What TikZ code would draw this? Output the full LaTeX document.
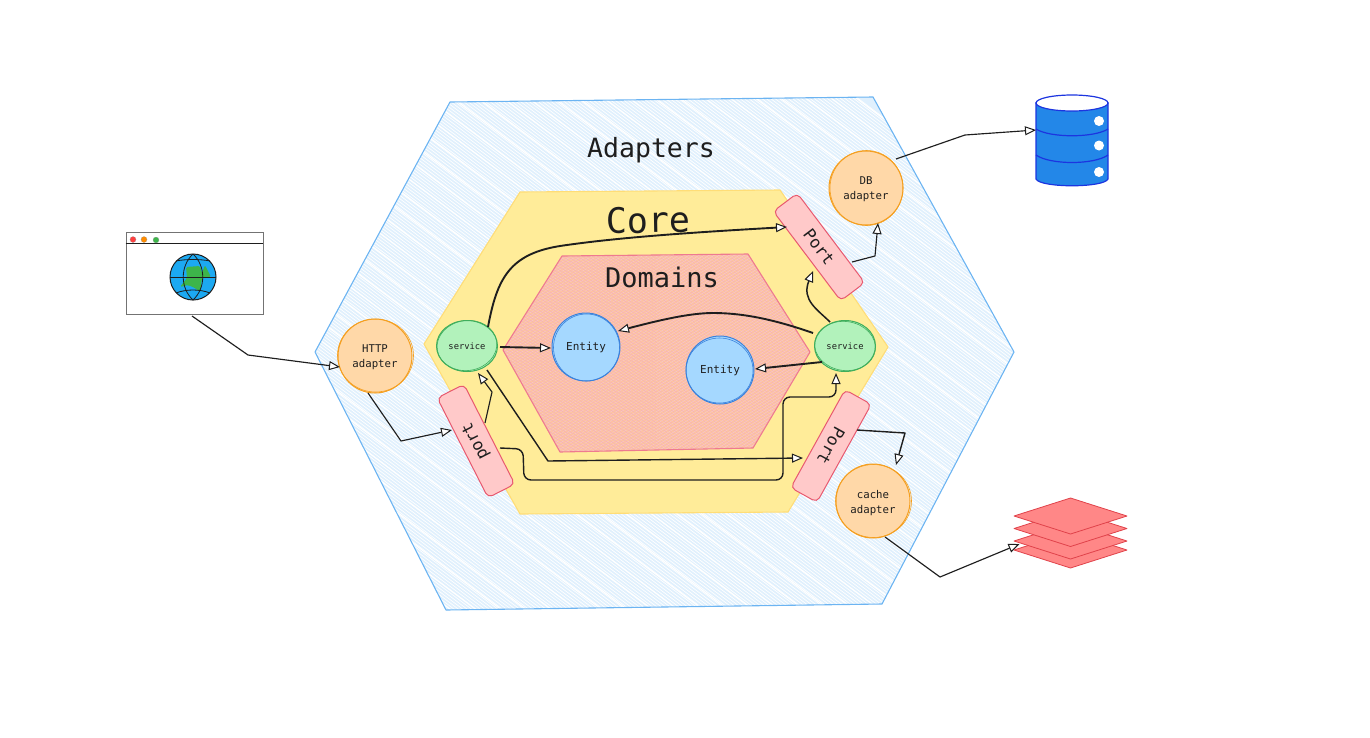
\documentclass[tikz,border=0pt]{standalone}
\usepackage{fontspec}
\setmainfont{DejaVu Sans Mono}
\usetikzlibrary{arrows.meta,shapes.geometric,calc}
\definecolor{txt}{HTML}{1E1E1E}
\definecolor{adFill}{HTML}{E0F0FD}
\definecolor{adLine}{HTML}{6CB4F2}
\definecolor{coreFill}{HTML}{FFEC99}
\definecolor{coreLine}{HTML}{FFDD77}
\definecolor{domFill}{HTML}{FDC4A0}
\definecolor{domLine}{HTML}{EE7A90}
\definecolor{portFill}{HTML}{FFC9C9}
\definecolor{portLine}{HTML}{E8596F}
\definecolor{orFill}{HTML}{FFD8A8}
\definecolor{orLine}{HTML}{F59F1F}
\definecolor{grFill}{HTML}{B2F2BB}
\definecolor{grLine}{HTML}{3FAE5C}
\definecolor{blFill}{HTML}{A5D8FF}
\definecolor{blLine}{HTML}{3B82DC}
\definecolor{dbFill}{HTML}{2387E8}
\definecolor{dbLine}{HTML}{1C35E0}
\definecolor{stFill}{HTML}{FF8787}
\definecolor{stLine}{HTML}{E0424A}
\definecolor{globeFill}{HTML}{1CA9F2}
\definecolor{globeLand}{HTML}{3DB54A}
\tikzset{
  x=1pt,y=-1pt,
  hexline/.style={line width=1.1pt,line join=round},
  lab/.style={text=txt,inner sep=0pt,align=center},
  portbox/.style={draw=portLine,fill=portFill,line width=1pt,rounded corners=5pt,minimum width=112pt,minimum height=30pt,inner sep=0pt,text=txt,font=\fontsize{16.5}{18}\selectfont},
  adapter/.style={circle,draw=orLine,fill=orFill,line width=1pt,minimum size=74pt,inner sep=0pt,text=txt,align=center,text depth=0pt,font=\fontsize{10.7}{15}\selectfont},
  service/.style={ellipse,draw=grLine,fill=grFill,line width=1pt,minimum width=61pt,minimum height=51pt,inner sep=0pt,text=txt,font=\fontsize{8.8}{10}\selectfont},
  entity/.style={circle,draw=blLine,fill=blFill,line width=1pt,minimum size=68pt,inner sep=0pt,text=txt,font=\fontsize{11}{13}\selectfont},
  conn/.style={draw=txt,line width=1.15pt,line join=round,-{Triangle[open,fill=white,length=11pt,width=9pt,line width=1pt]}},
  connb/.style={conn,line width=1.9pt,-{Triangle[open,fill=white,length=11pt,width=9pt,line width=1pt]}},
  layer/.style={draw=stLine,fill=stFill,line width=.8pt,line join=round},
  dbedge/.style={draw=dbLine,line width=1.2pt},
  anchorbox/.style={inner sep=0pt,outer sep=0pt},
}
\begin{document}
\begin{tikzpicture}
\useasboundingbox (0,0) rectangle (1370,737);
% Adapters hexagon
\begin{scope}
\clip (450,102) -- (873,97) -- (1014,352) -- (882,604) -- (446,610) -- (315,352) -- cycle;
\fill[adFill] (300,90) rectangle (1030,620);
\foreach \k in {-40,...,260}{
  \draw[white,line width=.7pt] (300,{90+\k*3.3-280}) -- (1030,{90+\k*3.3+270});
}
\foreach \k in {-8,...,45}{
  \draw[white,line width=1.1pt] (300,{92+\k*19-280}) -- (1030,{92+\k*19+270});
}
\end{scope}
\draw[adLine,hexline] (450,102) -- (873,97) -- (1014,352) -- (882,604) -- (446,610) -- (315,352) -- cycle;
% Core hexagon
\draw[coreLine,fill=coreFill,hexline] (520,192) -- (780,190) -- (888,347) -- (788,512) -- (520,514) -- (424,344) -- cycle;
% Domains hexagon
\begin{scope}
\clip (562,256) -- (748,254) -- (810,352) -- (753,448) -- (560,452) -- (503,350) -- cycle;
\fill[domFill] (495,245) rectangle (820,460);
\foreach \k in {-40,...,150}{
  \draw[domLine!62,line width=.4pt] (495,{245+\k*3.1-120}) -- (820,{245+\k*3.1+80});
  \draw[domLine!42,line width=.4pt] (495,{245+\k*3.1+80}) -- (820,{245+\k*3.1-120});
}
\end{scope}
\draw[domLine,hexline] (562,256) -- (748,254) -- (810,352) -- (753,448) -- (560,452) -- (503,350) -- cycle;
% Titles
\node[lab,font=\fontsize{26.5}{30}\selectfont] (tAdapters) at (651,150) {Adapters};
\node[lab,font=\fontsize{35}{38}\selectfont,rotate=1] (tCore) at (648,220) {Core};
\node[lab,font=\fontsize{27}{30}\selectfont] (tDomains) at (662,277) {Domains};
% Ports
\node[portbox,rotate=117] (portL) at (476,441) {port};
\node[portbox,rotate=-53] (portTR) at (819,247) {Port};
\node[portbox,rotate=241] (portBR) at (831,446) {Port};
% Adapters
\node[adapter] (http) at (375,356) {\raisebox{-1pt}{HTTP}\\\raisebox{-1pt}{adapter}};
\node[adapter] (dbad) at (866,188) {DB\\adapter};
\node[adapter] (cache) at (873,501) {\raisebox{-1pt}{cache}\\\raisebox{-1pt}{adapter}};
\draw[orLine,line width=.6pt] (375.5,355.5) ellipse[x radius=38,y radius=36.5];
\draw[orLine,line width=.6pt] (866.5,188) ellipse[x radius=36.5,y radius=37.5];
\draw[orLine,line width=.6pt] (873.5,501) ellipse[x radius=38,y radius=36.5];
% Services and entities
\node[service] (svcL) at (467,346) {service};
\node[service] (svcR) at (845,346) {service};
\draw[grLine,line width=.6pt,rotate around={8:(467,346)}] (467,345.5) ellipse[x radius=30,y radius=25];
\draw[grLine,line width=.6pt,rotate around={-8:(845,346)}] (845,346) ellipse[x radius=30.5,y radius=24.5];
\node[entity] (ent1) at (586,347) {Entity};
\node[entity] (ent2) at (720,370) {Entity};
\draw[blLine,line width=.6pt] (586.5,347.5) ellipse[x radius=33,y radius=33.5];
\draw[blLine,line width=.6pt] (719.5,370.5) ellipse[x radius=33.5,y radius=32.5];
% Browser
\node[draw=black!55,fill=white,line width=1pt,minimum width=137pt,minimum height=82pt,inner sep=0pt] (browser) at (194.5,273) {};
\draw[txt,line width=1pt] (125.5,243) -- (263,243);
\fill[red!75!white,draw=black!40,line width=.2pt] (133,239.5) circle[radius=3];
\fill[orange!90!yellow,draw=black!40,line width=.2pt] (144,239.5) circle[radius=3];
\fill[globeLand,draw=black!40,line width=.2pt] (156,240) circle[radius=3];
\fill[globeFill] (193,277) circle[radius=23];
\fill[globeLand,rounded corners=1.5pt] (186,267) -- (200,266) -- (202,273) -- (205,265) -- (211,277) -- (202,278) -- (200,292) -- (195,288) -- (188,285) -- (180,287) -- (187,278) -- cycle;
\draw[txt,line width=1pt] (193,277) circle[radius=23];
\draw[txt,line width=.8pt] (170,277) -- (216,277);
\draw[txt,line width=.8pt] (193,254) .. controls (180,266) and (180,288) .. (193,300) .. controls (206,288) and (206,266) .. (193,254);
\draw[txt,line width=.8pt] (176,261) .. controls (186,259) and (200,259) .. (210,261);
\draw[txt,line width=.8pt] (176,293) .. controls (186,289) and (200,289) .. (210,293);
% Database
\node[anchorbox,minimum width=72pt,minimum height=90pt] (db) at (1072,141) {};
\draw[dbedge,fill=dbFill] (1036,103) -- (1036,179) .. controls (1040,188) and (1104,188) .. (1108,179) -- (1108,103) -- cycle;
\draw[dbedge] (1036,129) .. controls (1050,138) and (1094,138) .. (1108,129);
\draw[dbedge] (1036,155) .. controls (1050,165) and (1094,165) .. (1108,155);
\draw[dbedge,fill=white] (1072,103) ellipse[x radius=36,y radius=8];
\fill[white] (1099,121) circle[radius=5];
\fill[white] (1099,145.5) circle[radius=5];
\fill[white] (1099,172) circle[radius=5];
% Stack
\node[anchorbox,minimum width=113pt,minimum height=70pt] (stack) at (1070.5,533) {};
\foreach \c in {550,541,528.5,516}{
  \draw[layer] (1014,\c) -- (1070.5,\c-18) -- (1127,\c) -- (1070.5,\c+18) -- cycle;
}
% Connectors
\draw[conn] ([shift={(-2.5,43)}]browser.center) -- (248,355) -- ([shift={(-35,11)}]http.center);
\draw[conn] ([shift={(-7,37)}]http.center) -- (401,441) -- ([shift={(-24,-11)}]portL.center);
\draw[conn] ([shift={(9,-18)}]portL.center) -- (492,392) -- ([shift={(11,27)}]svcL.center);
\draw[conn,line width=1.4pt] ([shift={(20,24)}]svcL.center) -- (548,461) -- ([shift={(-28,12)}]portBR.center);
\draw[conn,line width=1.4pt,rounded corners=7pt] ([shift={(24,7)}]portL.center) -- (523,449) -- (524,480) -- (783,480) -- (783,397) -- (836,397) -- ([shift={(-9,27)}]svcR.center);
\draw[connb] ([shift={(21,-19)}]svcL.center) .. controls (497,278) and (510,254) .. (560,246) .. controls (620,237) and (700,232) .. ([shift={(-32,-20)}]portTR.center);
\draw[connb] ([shift={(33,1)}]svcL.center) -- ([shift={(-35,1)}]ent1.center);
\draw[connb] ([shift={(-32,-13)}]svcR.center) .. controls (770,318) and (740,313) .. (713,313) .. controls (690,313) and (660,320) .. ([shift={(32,-16)}]ent1.center);
\draw[connb] ([shift={(-23,16)}]svcR.center) -- ([shift={(35,-1)}]ent2.center);
\draw[conn,line width=1.5pt] ([shift={(-15,-24)}]svcR.center) .. controls (818,310) and (801,300) .. ([shift={(-6,24)}]portTR.center);
\draw[conn] ([shift={(33,15)}]portTR.center) -- (875,256) -- ([shift={(12,35)}]dbad.center);
\draw[conn] ([shift={(30,-29)}]dbad.center) -- (965,135) -- ([shift={(-36,-11)}]db.center);
\draw[conn,line width=1.4pt] ([shift={(26,-16)}]portBR.center) -- (905,433) -- ([shift={(23,-36)}]cache.center);
\draw[conn] ([shift={(12,36)}]cache.center) -- (940,577) -- ([shift={(-51,11)}]stack.center);
\end{tikzpicture}
\end{document}
